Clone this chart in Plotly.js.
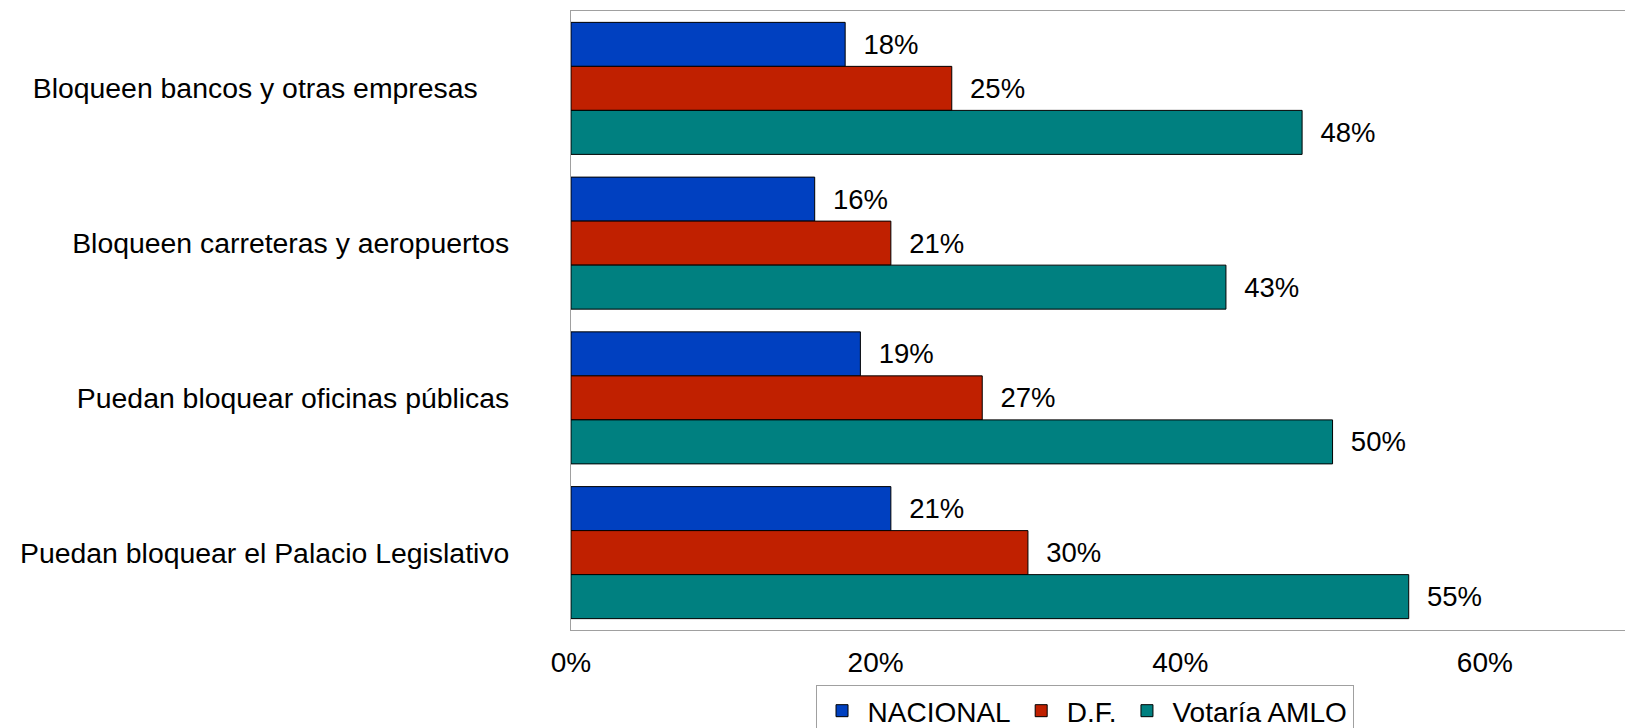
<!DOCTYPE html>
<html>
<head>
<meta charset="utf-8">
<script src="https://cdn.plot.ly/plotly-3.0.1.min.js"></script>
<style>
html,body{margin:0;padding:0;overflow:hidden;background:#fff;}
#chart{width:1625px;height:728px;}
</style>
</head>
<body>
<div id="chart"></div>
<script>
// Data
const categories = [
  "Bloqueen bancos y otras empresas",
  "Bloqueen carreteras y aeropuertos",
  "Puedan bloquear oficinas públicas",
  "Puedan bloquear el Palacio Legislativo"
];
// Displayed tick labels (trailing non-breaking spaces mimic original alignment)
const tickLabels = [
  "Bloqueen bancos y otras empresas\u00A0\u00A0\u00A0\u00A0",
  "Bloqueen carreteras y aeropuertos",
  "Puedan bloquear oficinas públicas",
  "Puedan bloquear el Palacio Legislativo"
];
const seriesNames = ["NACIONAL", "D.F.", "Votaría AMLO"];
const nacional = [18, 16, 19, 21];
const df = [25, 21, 27, 30];
const amlo = [48, 43, 50, 55];
const xTickVals = [0, 20, 40, 60];
const xTickText = ["0%", "20%", "40%", "60%"];

const colors = ["#0040C0", "#C02000", "#008080"];
const values = [nacional, df, amlo];
const FONT = "Liberation Sans, Arial, sans-serif";

const traces = values.map((vals, i) => ({
  type: "bar",
  orientation: "h",
  name: seriesNames[i],
  y: categories,
  x: vals,
  text: vals.map(v => v + "%"),
  texttemplate: "\u00A0\u00A0%{text}",
  textposition: "outside",
  cliponaxis: false,
  textfont: {family: FONT, size: 27.5, color: "#000"},
  marker: {color: colors[i], line: {color: "#000", width: 1}},
  hoverinfo: "skip"
}));

const layout = {
  width: 1625,
  height: 728,
  margin: {l: 571, r: 0, t: 11, b: 98, pad: 0},
  paper_bgcolor: "#fff",
  plot_bgcolor: "#fff",
  font: {family: FONT, size: 28, color: "#000"},
  barmode: "group",
  bargap: 0.147,
  bargroupgap: 0,
  showlegend: true,
  xaxis: {
    range: [0, 69.2],
    tickmode: "array",
    tickvals: xTickVals,
    ticktext: xTickText,
    showgrid: false,
    zeroline: false,
    showline: true,
    mirror: true,
    linecolor: "#a0a0a0",
    linewidth: 1,
    ticks: "",
    ticklabelstandoff: 7,
    automargin: false,
    tickfont: {family: FONT, size: 28, color: "#000"},
    fixedrange: true
  },
  yaxis: {
    type: "category",
    autorange: "reversed",
    tickmode: "array",
    tickvals: categories,
    ticktext: tickLabels,
    showgrid: false,
    zeroline: false,
    showline: true,
    linecolor: "#a0a0a0",
    linewidth: 1,
    ticks: "",
    ticklabelstandoff: 55,
    automargin: false,
    tickfont: {family: FONT, size: 28.4, color: "#000"},
    fixedrange: true
  },
  legend: {
    orientation: "h",
    xref: "paper",
    x: 0.232,
    xanchor: "left",
    yref: "container",
    y: 0.0591,
    yanchor: "top",
    itemwidth: 41,
    bgcolor: "#fff",
    bordercolor: "#a0a0a0",
    borderwidth: 1,
    font: {family: FONT, size: 28, color: "#000"},
    traceorder: "normal"
  }
};

Plotly.newPlot("chart", traces, layout, {displayModeBar: false, staticPlot: true});
</script>
</body>
</html>
